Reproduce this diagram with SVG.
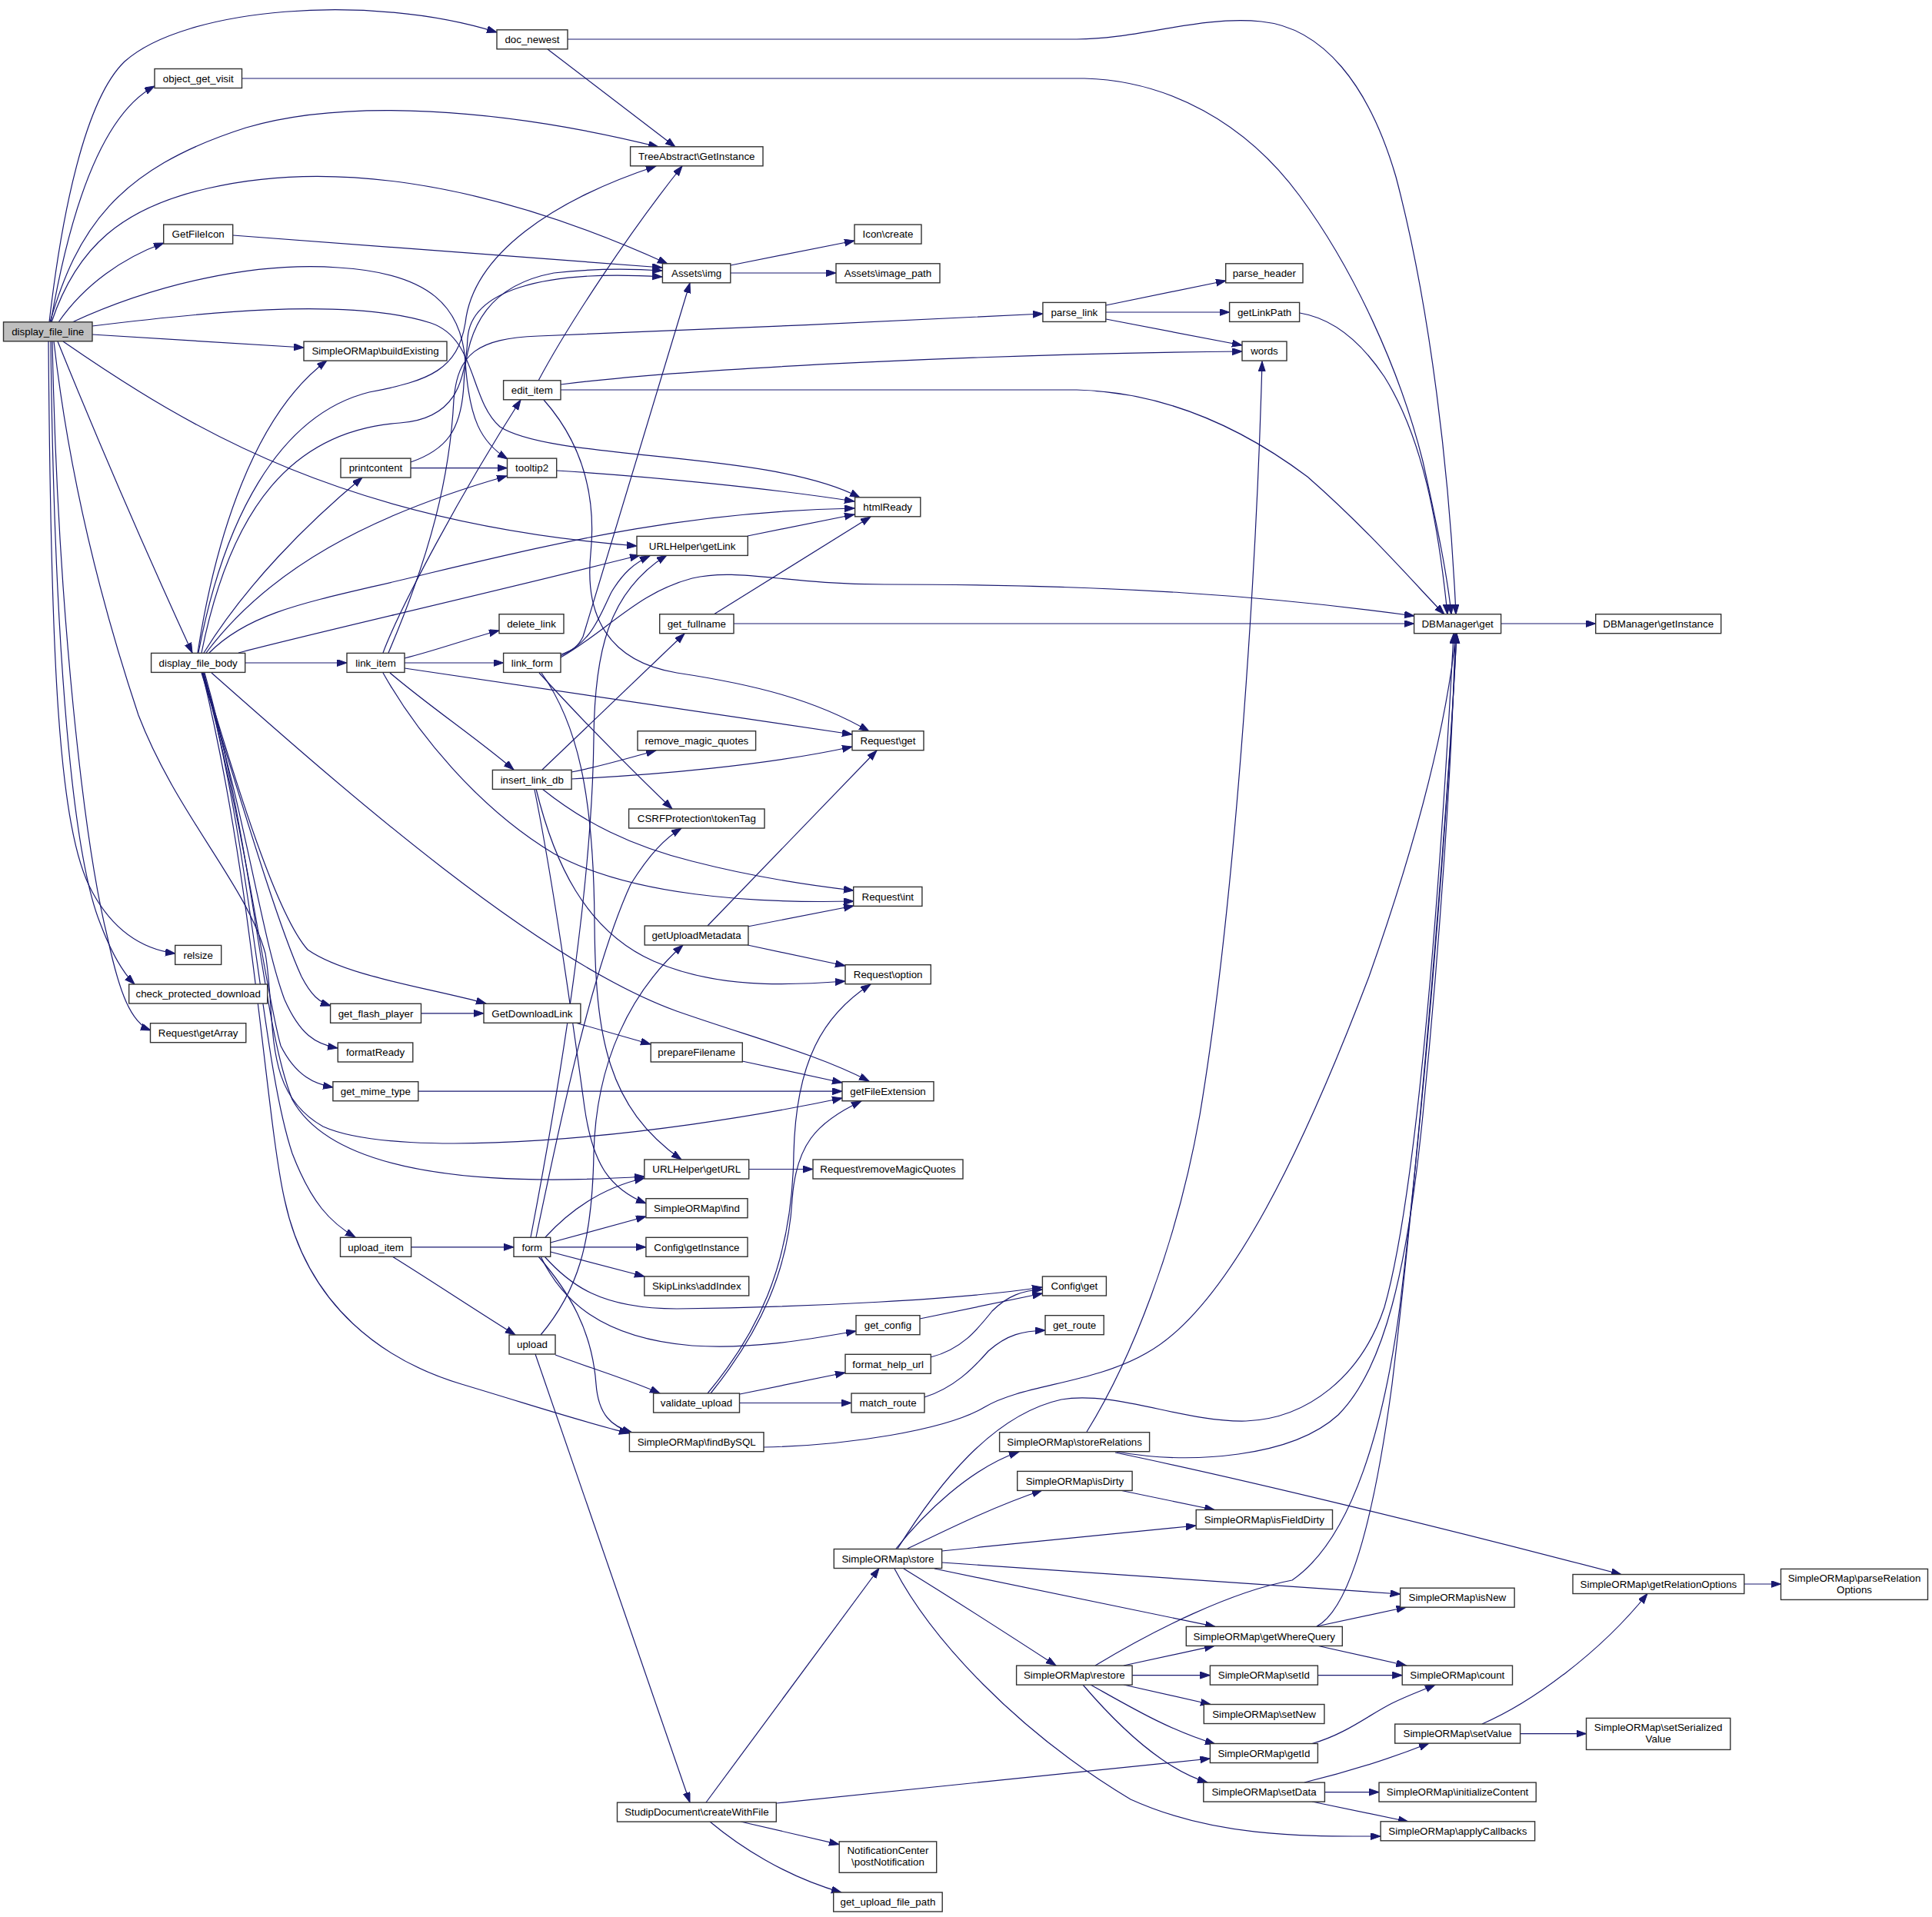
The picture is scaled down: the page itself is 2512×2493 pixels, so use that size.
<svg xmlns="http://www.w3.org/2000/svg" width="2512" height="2493" viewBox="0 0 2512 2493">
<style>
.n rect{fill:#fff;stroke:#333;stroke-width:1.4}
.n text{font-family:'Liberation Sans',Arial,Helvetica,sans-serif;font-size:13.33px;text-anchor:middle;fill:#000}
.root rect{fill:#bfbfbf}
.e path{fill:none;stroke:#191970;stroke-width:1.2;marker-end:url(#ah)}
</style>
<defs>
<marker id="ah" markerUnits="userSpaceOnUse" markerWidth="14" markerHeight="10" refX="13" refY="4.5" orient="auto">
<path d="M0,0 L13,4.5 L0,9 z" fill="#191970" stroke="#191970" stroke-width="1"/>
</marker>
</defs>
<rect x="0" y="0" width="2512" height="2493" fill="#fff"/>
<g id="edges" class="e">
<path d="M64,419 C80,280 110,130 162,80 C240,10 480,-10 646,42"/>
<path d="M66,419 C90,280 130,150 201,112"/>
<path d="M65,419 C100,300 150,220 320,166 C450,128 650,140 856,191"/>
<path d="M67,419 C100,320 160,270 270,245 C420,210 620,230 868,343"/>
<path d="M76,419 C110,370 160,335 213,316"/>
<path d="M94,419 C200,370 330,340 440,348 C560,355 600,400 605,470 C610,545 625,575 660,597"/>
<path d="M120,424 C250,408 450,385 560,420 C620,440 610,520 650,555 C720,600 1000,585 1118,647"/>
<path d="M120,435 L395,452"/>
<path d="M82,444 C250,560 450,680 828,710"/>
<path d="M75,444 C130,580 200,740 250,849"/>
<path d="M63,444 C66,850 75,1080 120,1160 C150,1215 190,1235 228,1240"/>
<path d="M66,444 C70,800 90,1100 130,1200 C145,1240 160,1265 175,1280"/>
<path d="M68,444 C75,800 110,1100 140,1220 C155,1290 170,1330 196,1340"/>
<path d="M70,444 C90,620 130,780 180,930 C230,1060 320,1150 345,1240 C360,1330 340,1420 420,1465 C520,1510 850,1480 1095,1428"/>
<path d="M257,849 C280,700 330,540 425,469"/>
<path d="M258,849 C290,680 360,540 480,510 C560,495 595,480 605,420 C615,330 720,260 853,216"/>
<path d="M262,849 C300,660 380,560 520,550 C590,545 605,500 608,440 C612,380 700,350 861,360"/>
<path d="M534,601 C580,585 600,560 603,500 C606,420 640,370 720,355 C780,348 830,350 861,352"/>
<path d="M265,849 C320,760 400,680 471,621"/>
<path d="M268,849 C350,740 480,670 659,619"/>
<path d="M272,849 C330,790 420,780 560,745 C750,700 900,665 1111,661"/>
<path d="M310,849 C400,825 600,780 832,722"/>
<path d="M319,862 L451,862"/>
<path d="M262,875 C310,1030 360,1200 392,1270 C405,1295 415,1303 430,1308"/>
<path d="M264,875 C310,1030 360,1190 400,1235 C450,1270 560,1285 632,1305"/>
<path d="M263,875 C320,1060 340,1220 370,1300 C390,1345 410,1358 439,1363"/>
<path d="M264,875 C320,1080 345,1290 365,1360 C385,1400 410,1410 433,1414"/>
<path d="M275,875 C450,1030 700,1250 880,1315 C980,1350 1060,1370 1130,1406"/>
<path d="M266,875 C330,1100 340,1330 380,1430 C430,1520 600,1545 838,1530"/>
<path d="M265,875 C330,1120 340,1380 380,1500 C405,1565 430,1590 462,1609"/>
<path d="M263,875 C330,1150 345,1450 370,1560 C400,1700 500,1770 600,1800 C700,1830 760,1850 818,1864"/>
<path d="M498,849 C520,790 600,640 677,520"/>
<path d="M505,849 C560,720 585,620 590,520 C595,460 620,440 700,437 C900,430 1150,418 1356,408"/>
<path d="M526,856 C570,845 610,830 649,820"/>
<path d="M526,862 L654.6,862"/>
<path d="M526,869 C700,895 900,925 1108,955"/>
<path d="M507,875 C560,920 620,960 668,1001"/>
<path d="M498,875 C540,950 620,1050 720,1110 C820,1165 980,1175 1110,1172"/>
<path d="M705,1001 L890,824"/>
<path d="M743,1004 C780,997 820,985 853,976"/>
<path d="M743,1013 C850,1008 1000,995 1108,971"/>
<path d="M705,1026 C760,1070 820,1100 900,1120 C970,1138 1040,1150 1110,1158"/>
<path d="M697,1026 C720,1120 760,1210 850,1250 C930,1285 1020,1282 1099,1276"/>
<path d="M695,1027 C720,1150 745,1330 760,1440 C770,1510 790,1545 840,1565"/>
<path d="M700,495 C740,420 820,300 887,216"/>
<path d="M729,500 C900,478 1300,460 1615,457"/>
<path d="M729,507 L1400,507 C1520,510 1620,560 1700,620 C1780,690 1840,760 1878,799"/>
<path d="M707,520 C760,580 775,650 768,720 C760,800 790,860 880,875 C980,890 1060,910 1130,951"/>
<path d="M712,64 L878,191"/>
<path d="M738,51 L1400,51 C1480,51 1560,20 1640,28 C1720,36 1780,110 1815,230 C1860,400 1885,620 1893,799"/>
<path d="M314,102 L1410,102 C1520,105 1620,160 1690,255 C1760,350 1820,480 1850,600 C1870,690 1882,750 1887,799"/>
<path d="M303,306 L861,348"/>
<path d="M950,345 L1111,313"/>
<path d="M950,355 L1087,355"/>
<path d="M1438,397 L1594,365"/>
<path d="M1438,406 L1598.6,406"/>
<path d="M1438,415 L1615,449"/>
<path d="M1690,407 C1720,412 1760,430 1800,490 C1850,570 1870,680 1882,799"/>
<path d="M534,608.6 L659.5,608.6"/>
<path d="M724,612 C850,620 1000,635 1111,652"/>
<path d="M972,697 L1111,669"/>
<path d="M928,799 L1132,672"/>
<path d="M954,811 L1838.6,811"/>
<path d="M1951.6,811 L2074.7,811"/>
<path d="M729,851 C745,846 752,840 758,828 L897,368"/>
<path d="M729,853 C770,835 780,800 795,770 C810,745 825,732 845,723"/>
<path d="M729,855 C790,820 830,770 900,752 C960,738 1020,760 1150,760 C1450,760 1650,775 1839,801"/>
<path d="M701,875 C760,940 820,1000 874,1052"/>
<path d="M704,875 C750,940 772,1030 773,1200 C774,1350 790,1440 886,1508"/>
<path d="M697,1609 C730,1450 770,1260 820,1150 C845,1110 865,1090 886,1077"/>
<path d="M690,1609 C730,1400 770,1150 772,960 C773,850 790,770 867,722"/>
<path d="M709,1609 C740,1575 780,1545 838,1532"/>
<path d="M715.7,1616 L840,1582"/>
<path d="M715.7,1621.8 L839.9,1621.8"/>
<path d="M715.7,1628 L838,1660"/>
<path d="M708,1634 C740,1670 780,1702 880,1702 C1050,1700 1250,1690 1355,1674"/>
<path d="M703,1634 C730,1690 780,1740 900,1750 C980,1755 1050,1742 1113,1731"/>
<path d="M700,1634 C740,1680 770,1730 775,1800 C778,1840 795,1855 822,1863"/>
<path d="M534.6,1621.8 L668,1621.8"/>
<path d="M510,1634 C560,1665 620,1705 670,1736"/>
<path d="M703,1736 C750,1680 770,1620 772,1500 C775,1380 820,1290 888,1229"/>
<path d="M722,1762 C770,1780 820,1795 858,1812"/>
<path d="M696,1761 L897,2344"/>
<path d="M962,1813 L1099,1785"/>
<path d="M961.5,1824.5 L1107,1824.5"/>
<path d="M920,1812 C980,1740 1030,1650 1032,1500 C1035,1380 1070,1320 1132,1280"/>
<path d="M924,1812 C990,1730 1025,1650 1030,1560 C1035,1490 1060,1460 1120,1432"/>
<path d="M920,1204 L1140,976"/>
<path d="M972,1205 L1110,1178"/>
<path d="M972,1229 L1099,1256"/>
<path d="M748,1330 L846,1358"/>
<path d="M547.5,1317.8 L629,1317.8"/>
<path d="M965,1380 L1095,1408"/>
<path d="M543.8,1419.2 L1095,1419.2"/>
<path d="M973.7,1520.5 L1057,1520.5"/>
<path d="M1196,1715 L1355.4,1682"/>
<path d="M1210,1765 C1250,1755 1270,1730 1290,1705 C1310,1685 1330,1678 1355.4,1677"/>
<path d="M1202,1817 C1240,1805 1265,1780 1285,1757 C1310,1735 1330,1731 1359,1730"/>
<path d="M993,1882 C1100,1880 1230,1860 1280,1830 C1330,1800 1420,1800 1490,1760 C1600,1700 1700,1480 1780,1270 C1840,1100 1880,950 1893,824"/>
<path d="M1413,1862 C1470,1770 1530,1620 1560,1450 C1610,1150 1635,700 1641,470"/>
<path d="M1452,1888 C1550,1905 1680,1895 1740,1840 C1800,1780 1830,1650 1850,1450 C1870,1250 1888,1000 1892,824"/>
<path d="M1450,1889 C1600,1920 1850,1980 2108,2047.5"/>
<path d="M1167,2014 C1220,1930 1290,1840 1380,1820 C1450,1808 1540,1850 1620,1848 C1700,1845 1770,1790 1800,1700 C1840,1560 1870,1200 1890,824"/>
<path d="M1165,2014 C1200,1970 1260,1910 1325,1888"/>
<path d="M1180,2014 C1230,1990 1290,1960 1355,1938"/>
<path d="M1224.6,2017 L1555,1984"/>
<path d="M1225,2032 L1820.6,2073"/>
<path d="M1215,2040 C1350,2068 1480,2095 1580,2115.4"/>
<path d="M1175,2040 C1240,2080 1310,2125 1373,2166"/>
<path d="M1163,2040 C1210,2130 1320,2250 1470,2340 C1580,2390 1700,2388 1795,2388"/>
<path d="M1456,1938 L1579,1963.5"/>
<path d="M2267.8,2060 L2315.5,2060"/>
<path d="M1712,2115 L1828.5,2090"/>
<path d="M1712,2140 L1828.5,2166"/>
<path d="M1712,2115 C1760,2090 1790,1950 1810,1800 C1840,1550 1880,1100 1894,824"/>
<path d="M1461,2166 L1579,2140.4"/>
<path d="M1472,2178.6 L1573.4,2178.6"/>
<path d="M1461,2191 L1574,2216.5"/>
<path d="M1418,2191 C1470,2220 1520,2250 1580,2268"/>
<path d="M1408,2191 C1450,2240 1510,2300 1570,2318"/>
<path d="M1424,2166 C1500,2120 1600,2070 1680,2055 C1760,2000 1800,1850 1820,1700 C1850,1450 1880,1100 1894,824"/>
<path d="M1713.4,2178.6 L1823.2,2178.6"/>
<path d="M1706,2267.5 C1750,2255 1780,2230 1810,2215 C1830,2205 1850,2198 1866,2191"/>
<path d="M1696,2318 C1750,2305 1800,2290 1858,2267"/>
<path d="M1722.4,2330.6 L1793,2330.6"/>
<path d="M1706,2343 L1831,2369"/>
<path d="M1927,2242 C1990,2215 2080,2150 2142,2072.5"/>
<path d="M1976.6,2254.6 L2062.5,2254.6"/>
<path d="M918,2344 L1143,2039.5"/>
<path d="M1009.3,2345 L1573.4,2287"/>
<path d="M963,2369 L1091,2398.6"/>
<path d="M923,2369 C960,2400 1020,2440 1094,2461"/>
</g>
<g id="n1" class="n root"><rect x="4.5" y="418.8" width="115.5" height="25"/><text x="62.25" y="436">display_file_line</text></g>
<g id="n2" class="n"><rect x="646" y="38.8" width="92" height="25"/><text x="692" y="56">doc_newest</text></g>
<g id="n3" class="n"><rect x="201" y="89.5" width="113.5" height="25"/><text x="257.75" y="106.7">object_get_visit</text></g>
<g id="n4" class="n"><rect x="819.6" y="190.8" width="172.4" height="25"/><text x="905.8" y="208">TreeAbstract\GetInstance</text></g>
<g id="n5" class="n"><rect x="212.7" y="292.1" width="90" height="25"/><text x="257.7" y="309.3">GetFileIcon</text></g>
<g id="n6" class="n"><rect x="1111" y="292.1" width="87" height="25"/><text x="1154.5" y="309.3">Icon\create</text></g>
<g id="n7" class="n"><rect x="861.4" y="342.8" width="88.4" height="25"/><text x="905.6" y="360">Assets\img</text></g>
<g id="n8" class="n"><rect x="1087" y="342.8" width="135" height="25"/><text x="1154.5" y="360">Assets\image_path</text></g>
<g id="n9" class="n"><rect x="1593.7" y="342.8" width="100.3" height="25"/><text x="1643.85" y="360">parse_header</text></g>
<g id="n10" class="n"><rect x="1355.9" y="393.4" width="81.9" height="25"/><text x="1396.85" y="410.6">parse_link</text></g>
<g id="n11" class="n"><rect x="1598.6" y="393.4" width="91" height="25"/><text x="1644.1" y="410.6">getLinkPath</text></g>
<g id="n12" class="n"><rect x="1615" y="444.1" width="58" height="25"/><text x="1644" y="461.3">words</text></g>
<g id="n13" class="n"><rect x="395" y="444.1" width="186" height="25"/><text x="488" y="461.3">SimpleORMap\buildExisting</text></g>
<g id="n14" class="n"><rect x="654.6" y="494.8" width="74.4" height="25"/><text x="691.8" y="512">edit_item</text></g>
<g id="n15" class="n"><rect x="443" y="596.1" width="91" height="25"/><text x="488.5" y="613.3">printcontent</text></g>
<g id="n16" class="n"><rect x="659.5" y="596.1" width="64.2" height="25"/><text x="691.6" y="613.3">tooltip2</text></g>
<g id="n17" class="n"><rect x="1111.6" y="646.8" width="85.2" height="25"/><text x="1154.2" y="664">htmlReady</text></g>
<g id="n18" class="n"><rect x="828" y="697.4" width="144.3" height="25"/><text x="900.15" y="714.6">URLHelper\getLink</text></g>
<g id="n19" class="n"><rect x="857.7" y="798.7" width="96.3" height="25"/><text x="905.85" y="815.9">get_fullname</text></g>
<g id="n20" class="n"><rect x="649" y="798.7" width="84" height="25"/><text x="691" y="815.9">delete_link</text></g>
<g id="n21" class="n"><rect x="1838.6" y="798.7" width="113" height="25"/><text x="1895.1" y="815.9">DBManager\get</text></g>
<g id="n22" class="n"><rect x="2074.7" y="798.7" width="163" height="25"/><text x="2156.2" y="815.9">DBManager\getInstance</text></g>
<g id="n23" class="n"><rect x="196.6" y="849.4" width="122.1" height="25"/><text x="257.65" y="866.6">display_file_body</text></g>
<g id="n24" class="n"><rect x="451" y="849.4" width="75" height="25"/><text x="488.5" y="866.6">link_item</text></g>
<g id="n25" class="n"><rect x="654.6" y="849.4" width="74.4" height="25"/><text x="691.8" y="866.6">link_form</text></g>
<g id="n26" class="n"><rect x="829" y="950.7" width="153.6" height="25"/><text x="905.8" y="967.9">remove_magic_quotes</text></g>
<g id="n27" class="n"><rect x="1108" y="950.7" width="93" height="25"/><text x="1154.5" y="967.9">Request\get</text></g>
<g id="n28" class="n"><rect x="640.4" y="1001.4" width="102.7" height="25"/><text x="691.75" y="1018.6">insert_link_db</text></g>
<g id="n29" class="n"><rect x="817.6" y="1052" width="176.4" height="25"/><text x="905.8" y="1069.2">CSRFProtection\tokenTag</text></g>
<g id="n30" class="n"><rect x="1109.7" y="1153.4" width="89.2" height="25"/><text x="1154.3" y="1170.6">Request\int</text></g>
<g id="n31" class="n"><rect x="838.2" y="1204" width="134.7" height="25"/><text x="905.55" y="1221.2">getUploadMetadata</text></g>
<g id="n32" class="n"><rect x="227.7" y="1229.4" width="60" height="25"/><text x="257.7" y="1246.6">relsize</text></g>
<g id="n33" class="n"><rect x="1099" y="1254.7" width="111.3" height="25"/><text x="1154.65" y="1271.9">Request\option</text></g>
<g id="n34" class="n"><rect x="167.7" y="1280" width="180" height="25"/><text x="257.7" y="1297.2">check_protected_download</text></g>
<g id="n35" class="n"><rect x="429.6" y="1305.3" width="117.9" height="25"/><text x="488.55" y="1322.5">get_flash_player</text></g>
<g id="n36" class="n"><rect x="629" y="1305.3" width="125.9" height="25"/><text x="691.95" y="1322.5">GetDownloadLink</text></g>
<g id="n37" class="n"><rect x="195.5" y="1330.7" width="124.3" height="25"/><text x="257.65" y="1347.9">Request\getArray</text></g>
<g id="n38" class="n"><rect x="439.3" y="1356" width="97.5" height="25"/><text x="488.05" y="1373.2">formatReady</text></g>
<g id="n39" class="n"><rect x="846.2" y="1356" width="119.1" height="25"/><text x="905.75" y="1373.2">prepareFilename</text></g>
<g id="n40" class="n"><rect x="432.9" y="1406.7" width="110.9" height="25"/><text x="488.35" y="1423.9">get_mime_type</text></g>
<g id="n41" class="n"><rect x="1095" y="1406.7" width="119" height="25"/><text x="1154.5" y="1423.9">getFileExtension</text></g>
<g id="n42" class="n"><rect x="837.8" y="1508" width="135.9" height="25"/><text x="905.75" y="1525.2">URLHelper\getURL</text></g>
<g id="n43" class="n"><rect x="1057" y="1508" width="195" height="25"/><text x="1154.5" y="1525.2">Request\removeMagicQuotes</text></g>
<g id="n44" class="n"><rect x="839.9" y="1558.7" width="132.1" height="25"/><text x="905.95" y="1575.9">SimpleORMap\find</text></g>
<g id="n45" class="n"><rect x="442.5" y="1609.3" width="92.1" height="25"/><text x="488.55" y="1626.5">upload_item</text></g>
<g id="n46" class="n"><rect x="668" y="1609.3" width="47.7" height="25"/><text x="691.85" y="1626.5">form</text></g>
<g id="n47" class="n"><rect x="839.9" y="1609.3" width="132.1" height="25"/><text x="905.95" y="1626.5">Config\getInstance</text></g>
<g id="n48" class="n"><rect x="837.8" y="1660" width="135.9" height="25"/><text x="905.75" y="1677.2">SkipLinks\addIndex</text></g>
<g id="n49" class="n"><rect x="1355.4" y="1660" width="83" height="25"/><text x="1396.9" y="1677.2">Config\get</text></g>
<g id="n50" class="n"><rect x="1113" y="1710.7" width="83" height="25"/><text x="1154.5" y="1727.9">get_config</text></g>
<g id="n51" class="n"><rect x="1359" y="1710.7" width="76.2" height="25"/><text x="1397.1" y="1727.9">get_route</text></g>
<g id="n52" class="n"><rect x="662" y="1736" width="60" height="25"/><text x="692" y="1753.2">upload</text></g>
<g id="n53" class="n"><rect x="1099" y="1761.3" width="111.3" height="25"/><text x="1154.65" y="1778.5">format_help_url</text></g>
<g id="n54" class="n"><rect x="849.6" y="1812" width="111.9" height="25"/><text x="905.55" y="1829.2">validate_upload</text></g>
<g id="n55" class="n"><rect x="1107" y="1812" width="95" height="25"/><text x="1154.5" y="1829.2">match_route</text></g>
<g id="n56" class="n"><rect x="818.4" y="1862.7" width="174.6" height="25"/><text x="905.7" y="1879.9">SimpleORMap\findBySQL</text></g>
<g id="n57" class="n"><rect x="1299.6" y="1862.7" width="195" height="25"/><text x="1397.1" y="1879.9">SimpleORMap\storeRelations</text></g>
<g id="n58" class="n"><rect x="1322.7" y="1913.4" width="149.4" height="25"/><text x="1397.4" y="1930.6">SimpleORMap\isDirty</text></g>
<g id="n59" class="n"><rect x="1555.2" y="1963.5" width="177.3" height="25"/><text x="1643.85" y="1980.7">SimpleORMap\isFieldDirty</text></g>
<g id="n60" class="n"><rect x="1084.3" y="2014.5" width="140.3" height="25"/><text x="1154.45" y="2031.7">SimpleORMap\store</text></g>
<g id="n61" class="n"><rect x="2045" y="2047.5" width="222.8" height="25"/><text x="2156.4" y="2064.7">SimpleORMap\getRelationOptions</text></g>
<g id="n62" class="n"><rect x="2315.5" y="2040.4" width="191" height="40"/><text x="2411" y="2056.7">SimpleORMap\parseRelation</text><text x="2411" y="2071.5">Options</text></g>
<g id="n63" class="n"><rect x="1820.6" y="2065.2" width="148.5" height="25"/><text x="1894.85" y="2082.4">SimpleORMap\isNew</text></g>
<g id="n64" class="n"><rect x="1542.3" y="2115.4" width="203" height="25"/><text x="1643.8" y="2132.6">SimpleORMap\getWhereQuery</text></g>
<g id="n65" class="n"><rect x="1321.6" y="2166.1" width="150.5" height="25"/><text x="1396.85" y="2183.3">SimpleORMap\restore</text></g>
<g id="n66" class="n"><rect x="1573.4" y="2166.1" width="140" height="25"/><text x="1643.4" y="2183.3">SimpleORMap\setId</text></g>
<g id="n67" class="n"><rect x="1823.2" y="2166.1" width="143.3" height="25"/><text x="1894.85" y="2183.3">SimpleORMap\count</text></g>
<g id="n68" class="n"><rect x="1565.3" y="2216.5" width="156.6" height="25"/><text x="1643.6" y="2233.7">SimpleORMap\setNew</text></g>
<g id="n69" class="n"><rect x="1813.7" y="2242.1" width="162.9" height="25"/><text x="1895.15" y="2259.3">SimpleORMap\setValue</text></g>
<g id="n70" class="n"><rect x="2062.5" y="2234.4" width="187.3" height="41"/><text x="2156.15" y="2250.7">SimpleORMap\setSerialized</text><text x="2156.15" y="2266">Value</text></g>
<g id="n71" class="n"><rect x="1573.4" y="2267.5" width="140" height="25"/><text x="1643.4" y="2284.7">SimpleORMap\getId</text></g>
<g id="n72" class="n"><rect x="1564.8" y="2318.1" width="157.6" height="25"/><text x="1643.6" y="2335.3">SimpleORMap\setData</text></g>
<g id="n73" class="n"><rect x="1793" y="2318.1" width="204.2" height="25"/><text x="1895.1" y="2335.3">SimpleORMap\initializeContent</text></g>
<g id="n74" class="n"><rect x="802.5" y="2344.1" width="206.8" height="25"/><text x="905.9" y="2361.3">StudipDocument\createWithFile</text></g>
<g id="n75" class="n"><rect x="1795.1" y="2368.8" width="200.5" height="25"/><text x="1895.35" y="2386">SimpleORMap\applyCallbacks</text></g>
<g id="n76" class="n"><rect x="1091.2" y="2394.9" width="126.5" height="40.4"/><text x="1154.45" y="2411.2">NotificationCenter</text><text x="1154.45" y="2426.1">\postNotification</text></g>
<g id="n77" class="n"><rect x="1083.7" y="2461" width="141.5" height="25"/><text x="1154.45" y="2478.2">get_upload_file_path</text></g>
</svg>
